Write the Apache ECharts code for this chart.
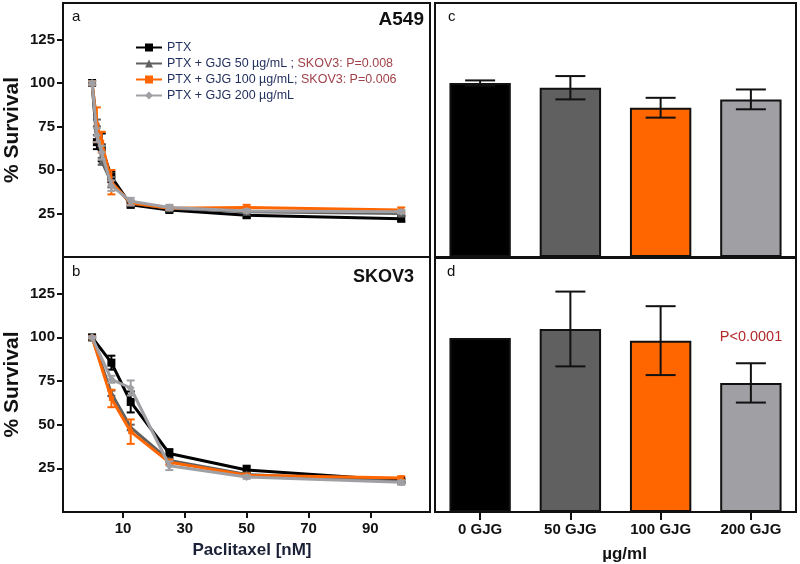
<!DOCTYPE html>
<html><head><meta charset="utf-8">
<script src="https://cdn.jsdelivr.net/npm/echarts@6/dist/echarts.min.js"></script>
<style>html,body{margin:0;padding:0;background:#fff}#c{width:800px;height:564px}</style>
</head><body><div id="c"></div>
<script>
// ---------- data ----------
const seriesNames = ['PTX', 'PTX + GJG 50 µg/mL', 'PTX + GJG 100 µg/mL', 'PTX + GJG 200 µg/mL'];
const colors = ['#000000', '#606060', '#ff6600', '#a0a0a4'];
const symbols = ['rect', 'triangle', 'rect', 'diamond'];

// Panel a: A549
const doseA = [0, 1.5625, 3.125, 6.25, 12.5, 25, 50, 100];
const a_PTX      = [100, 66, 63, 46, 30, 27, 24, 22];
const a_PTX_err  = [1, 4, 8, 3, 1.5, 1, 1.5, 1.5];
const a_G50      = [100, 77, 55, 43, 31, 28, 26, 25];
const a_G50_err  = [1, 2, 2, 3, 1.5, 1, 1, 1];
const a_G100     = [100, 76, 66, 43, 31, 28, 28.5, 27];
const a_G100_err = [1, 10, 6, 7, 1, 1, 1.5, 1.5];
const a_G200     = [100, 70, 60, 41, 32, 28.5, 26.5, 26];
const a_G200_err = [1, 4, 4, 3, 2, 1.5, 1, 1];

// Panel b: SKOV3
const doseB = [0, 6.25, 12.5, 25, 50, 100];
const b_PTX      = [100, 85.5, 63, 33.5, 24, 18];
const b_PTX_err  = [0.5, 4, 6, 2.5, 2.5, 1];
const b_G50      = [100, 68, 48.5, 29.5, 21.5, 17.5];
const b_G50_err  = [0.5, 1.5, 1.5, 1, 1, 1];
const b_G100     = [100, 65, 46, 28.5, 21, 19.5];
const b_G100_err = [0.5, 5, 7, 1.5, 1, 1];
const b_G200     = [100, 76, 71, 26.5, 20, 17];
const b_G200_err = [0.5, 2, 4.3, 2.5, 1, 1];

// Panels c/d: GJG alone
const categories = ['0 GJG', '50 GJG', '100 GJG', '200 GJG'];
const c_vals = [100, 97.3, 85.8, 90.6];
const c_err  = [1.5, 6.7, 5.7, 5.7];
const d_vals = [100, 105.2, 98.5, 74.2];
const d_err  = [0, 21.5, 19.8, 11.3];

const xTicks = [10, 30, 50, 70, 90];
const yTicks = [25, 50, 75, 100, 125];
// ---------- /data ----------

const FONT = 'Liberation Sans, Arial, sans-serif';
const chart = echarts.init(document.getElementById('c'), null, {renderer: 'canvas'});

function errRender(half) {
  return function (params, api) {
    const x = api.value(0), y = api.value(1), e = api.value(2);
    if (!e) return null;
    const p1 = api.coord([x, y + e]), p2 = api.coord([x, y - e]);
    const style = {stroke: api.visual('color'), lineWidth: 2};
    return {type: 'group', children: [
      {type: 'line', shape: {x1: p1[0], y1: p1[1], x2: p2[0], y2: p2[1]}, style},
      {type: 'line', shape: {x1: p1[0] - half, y1: p1[1], x2: p1[0] + half, y2: p1[1]}, style},
      {type: 'line', shape: {x1: p2[0] - half, y1: p2[1], x2: p2[0] + half, y2: p2[1]}, style}
    ]};
  };
}

const aSets = [[a_PTX, a_PTX_err], [a_G50, a_G50_err], [a_G100, a_G100_err], [a_G200, a_G200_err]];
const bSets = [[b_PTX, b_PTX_err], [b_G50, b_G50_err], [b_G100, b_G100_err], [b_G200, b_G200_err]];

const series = [];
function addLines(sets, doses, axisIdx, tag) {
  sets.forEach(function (s, i) {
    series.push({
      type: 'line', name: seriesNames[i], xAxisIndex: axisIdx, yAxisIndex: axisIdx,
      data: doses.map(function (d, k) { return [d, s[0][k]]; }),
      lineStyle: {color: colors[i], width: 3}, itemStyle: {color: colors[i]},
      symbol: symbols[i], symbolSize: i === 2 ? 5 : 8, showSymbol: true, z: 3 + i,
      animation: false
    });
    series.push({
      type: 'custom', name: tag + i, xAxisIndex: axisIdx, yAxisIndex: axisIdx,
      data: doses.map(function (d, k) { return [d, s[0][k], s[1][k]]; }),
      renderItem: errRender(4), itemStyle: {color: colors[i]}, z: 3 + i, animation: false
    });
  });
}
addLines(aSets, doseA, 0, 'errA');
addLines(bSets, doseB, 1, 'errB');

function addBars(vals, errs, axisIdx, tag) {
  series.push({
    type: 'bar', name: tag, xAxisIndex: axisIdx, yAxisIndex: axisIdx, barWidth: '68%',
    data: vals.map(function (v, k) { return {value: v, itemStyle: {color: colors[k]}}; }),
    itemStyle: {borderColor: '#111', borderWidth: 2}, animation: false
  });
  series.push({
    type: 'custom', name: tag + 'err', xAxisIndex: axisIdx, yAxisIndex: axisIdx,
    data: vals.map(function (v, k) { return [k, v, errs[k]]; }),
    renderItem: errRender(15), itemStyle: {color: '#111'}, z: 10, animation: false
  });
}
addBars(c_vals, c_err, 2, 'barC');
addBars(d_vals, d_err, 3, 'barD');

const gridBase = {show: true, borderColor: '#111', borderWidth: 2, backgroundColor: '#fff', containLabel: false};

function lineXAxis(idx, showLabels) {
  return {
    type: 'value', gridIndex: idx, min: -9.4, max: 109.3,
    axisLine: {show: false, onZero: false}, splitLine: {show: false},
    axisTick: {show: showLabels, customValues: xTicks, length: 6, lineStyle: {color: '#111', width: 2}},
    axisLabel: {show: showLabels, customValues: xTicks, fontFamily: FONT, fontWeight: 'bold', fontSize: 15, color: '#111', margin: 9},
    name: showLabels ? 'Paclitaxel [nM]' : '', nameLocation: 'middle', nameGap: 30,
    nameTextStyle: {fontFamily: FONT, fontWeight: 'bold', fontSize: 17, color: '#1a2035', padding: [0, 0, 0, 11]}
  };
}
function lineYAxis(idx) {
  return {
    type: 'value', gridIndex: idx, min: 0, max: 146,
    axisLine: {show: false, onZero: false}, splitLine: {show: false},
    axisTick: {show: true, customValues: yTicks, length: 6, lineStyle: {color: '#111', width: 2}},
    axisLabel: {customValues: yTicks, fontFamily: FONT, fontWeight: 'bold', fontSize: 15, color: '#111', margin: 8},
    name: '% Survival', nameLocation: 'middle', nameGap: 40, nameRotate: 90,
    nameTextStyle: {fontFamily: FONT, fontWeight: 'bold', fontSize: 21, color: '#111'}
  };
}
function barYAxis(idx) {
  return {type: 'value', gridIndex: idx, min: 0, max: 146, show: false, splitLine: {show: false}};
}

const legendRich = {p: {color: '#a0424a', fontSize: 12.5, fontFamily: FONT}};

const option = {
  backgroundColor: '#fff',
  animation: false,
  grid: [
    Object.assign({left: 63, top: 3, width: 367, height: 254}, gridBase),
    Object.assign({left: 63, top: 257, width: 367, height: 255}, gridBase),
    Object.assign({left: 435, top: 3, width: 361, height: 254}, gridBase),
    Object.assign({left: 435, top: 258, width: 361, height: 254}, gridBase)
  ],
  xAxis: [
    lineXAxis(0, false),
    lineXAxis(1, true),
    {type: 'category', gridIndex: 2, data: categories, axisLine: {show: false}, axisTick: {show: false}, axisLabel: {show: false}},
    {type: 'category', gridIndex: 3, data: categories, axisLine: {show: false},
     axisTick: {show: true, alignWithLabel: true, length: 8, lineStyle: {color: '#111', width: 2}},
     axisLabel: {fontFamily: FONT, fontWeight: 'bold', fontSize: 15, color: '#111', margin: 10},
     name: 'µg/ml', nameLocation: 'middle', nameGap: 34,
     nameTextStyle: {fontFamily: FONT, fontWeight: 'bold', fontSize: 17, color: '#111', padding: [0, 0, 0, 18]}}
  ],
  yAxis: [lineYAxis(0), lineYAxis(1), barYAxis(2), barYAxis(3)],
  legend: {
    data: seriesNames, orient: 'vertical', left: 130, top: 36,
    itemWidth: 26, itemHeight: 10, itemGap: 3,
    textStyle: {fontFamily: FONT, fontSize: 12.5, color: '#1f2d5c', rich: legendRich},
    formatter: function (name) {
      if (name === seriesNames[1]) return name + ' ;{p| SKOV3: P=0.008}';
      if (name === seriesNames[2]) return name + ';{p| SKOV3: P=0.006}';
      return name;
    },
    selectedMode: false
  },
  graphic: [
    {type: 'text', x: 72, y: 17, style: {text: 'a', font: '15px ' + FONT, fill: '#111', verticalAlign: 'middle'}},
    {type: 'text', x: 72, y: 272, style: {text: 'b', font: '15px ' + FONT, fill: '#111', verticalAlign: 'middle'}},
    {type: 'text', x: 448, y: 17, style: {text: 'c', font: '15px ' + FONT, fill: '#111', verticalAlign: 'middle'}},
    {type: 'text', x: 447, y: 272, style: {text: 'd', font: '15px ' + FONT, fill: '#111', verticalAlign: 'middle'}},
    {type: 'text', x: 424, y: 20, style: {text: 'A549', font: 'bold 19px ' + FONT, fill: '#111', align: 'right', verticalAlign: 'middle'}},
    {type: 'text', x: 414, y: 277, style: {text: 'SKOV3', font: 'bold 18px ' + FONT, fill: '#111', align: 'right', verticalAlign: 'middle'}},
    {type: 'text', x: 751, y: 337, style: {text: 'P<0.0001', font: '14.5px ' + FONT, fill: '#b22a2a', align: 'center', verticalAlign: 'middle'}}
  ],
  series: series
};
chart.setOption(option);
</script>
</body></html>
